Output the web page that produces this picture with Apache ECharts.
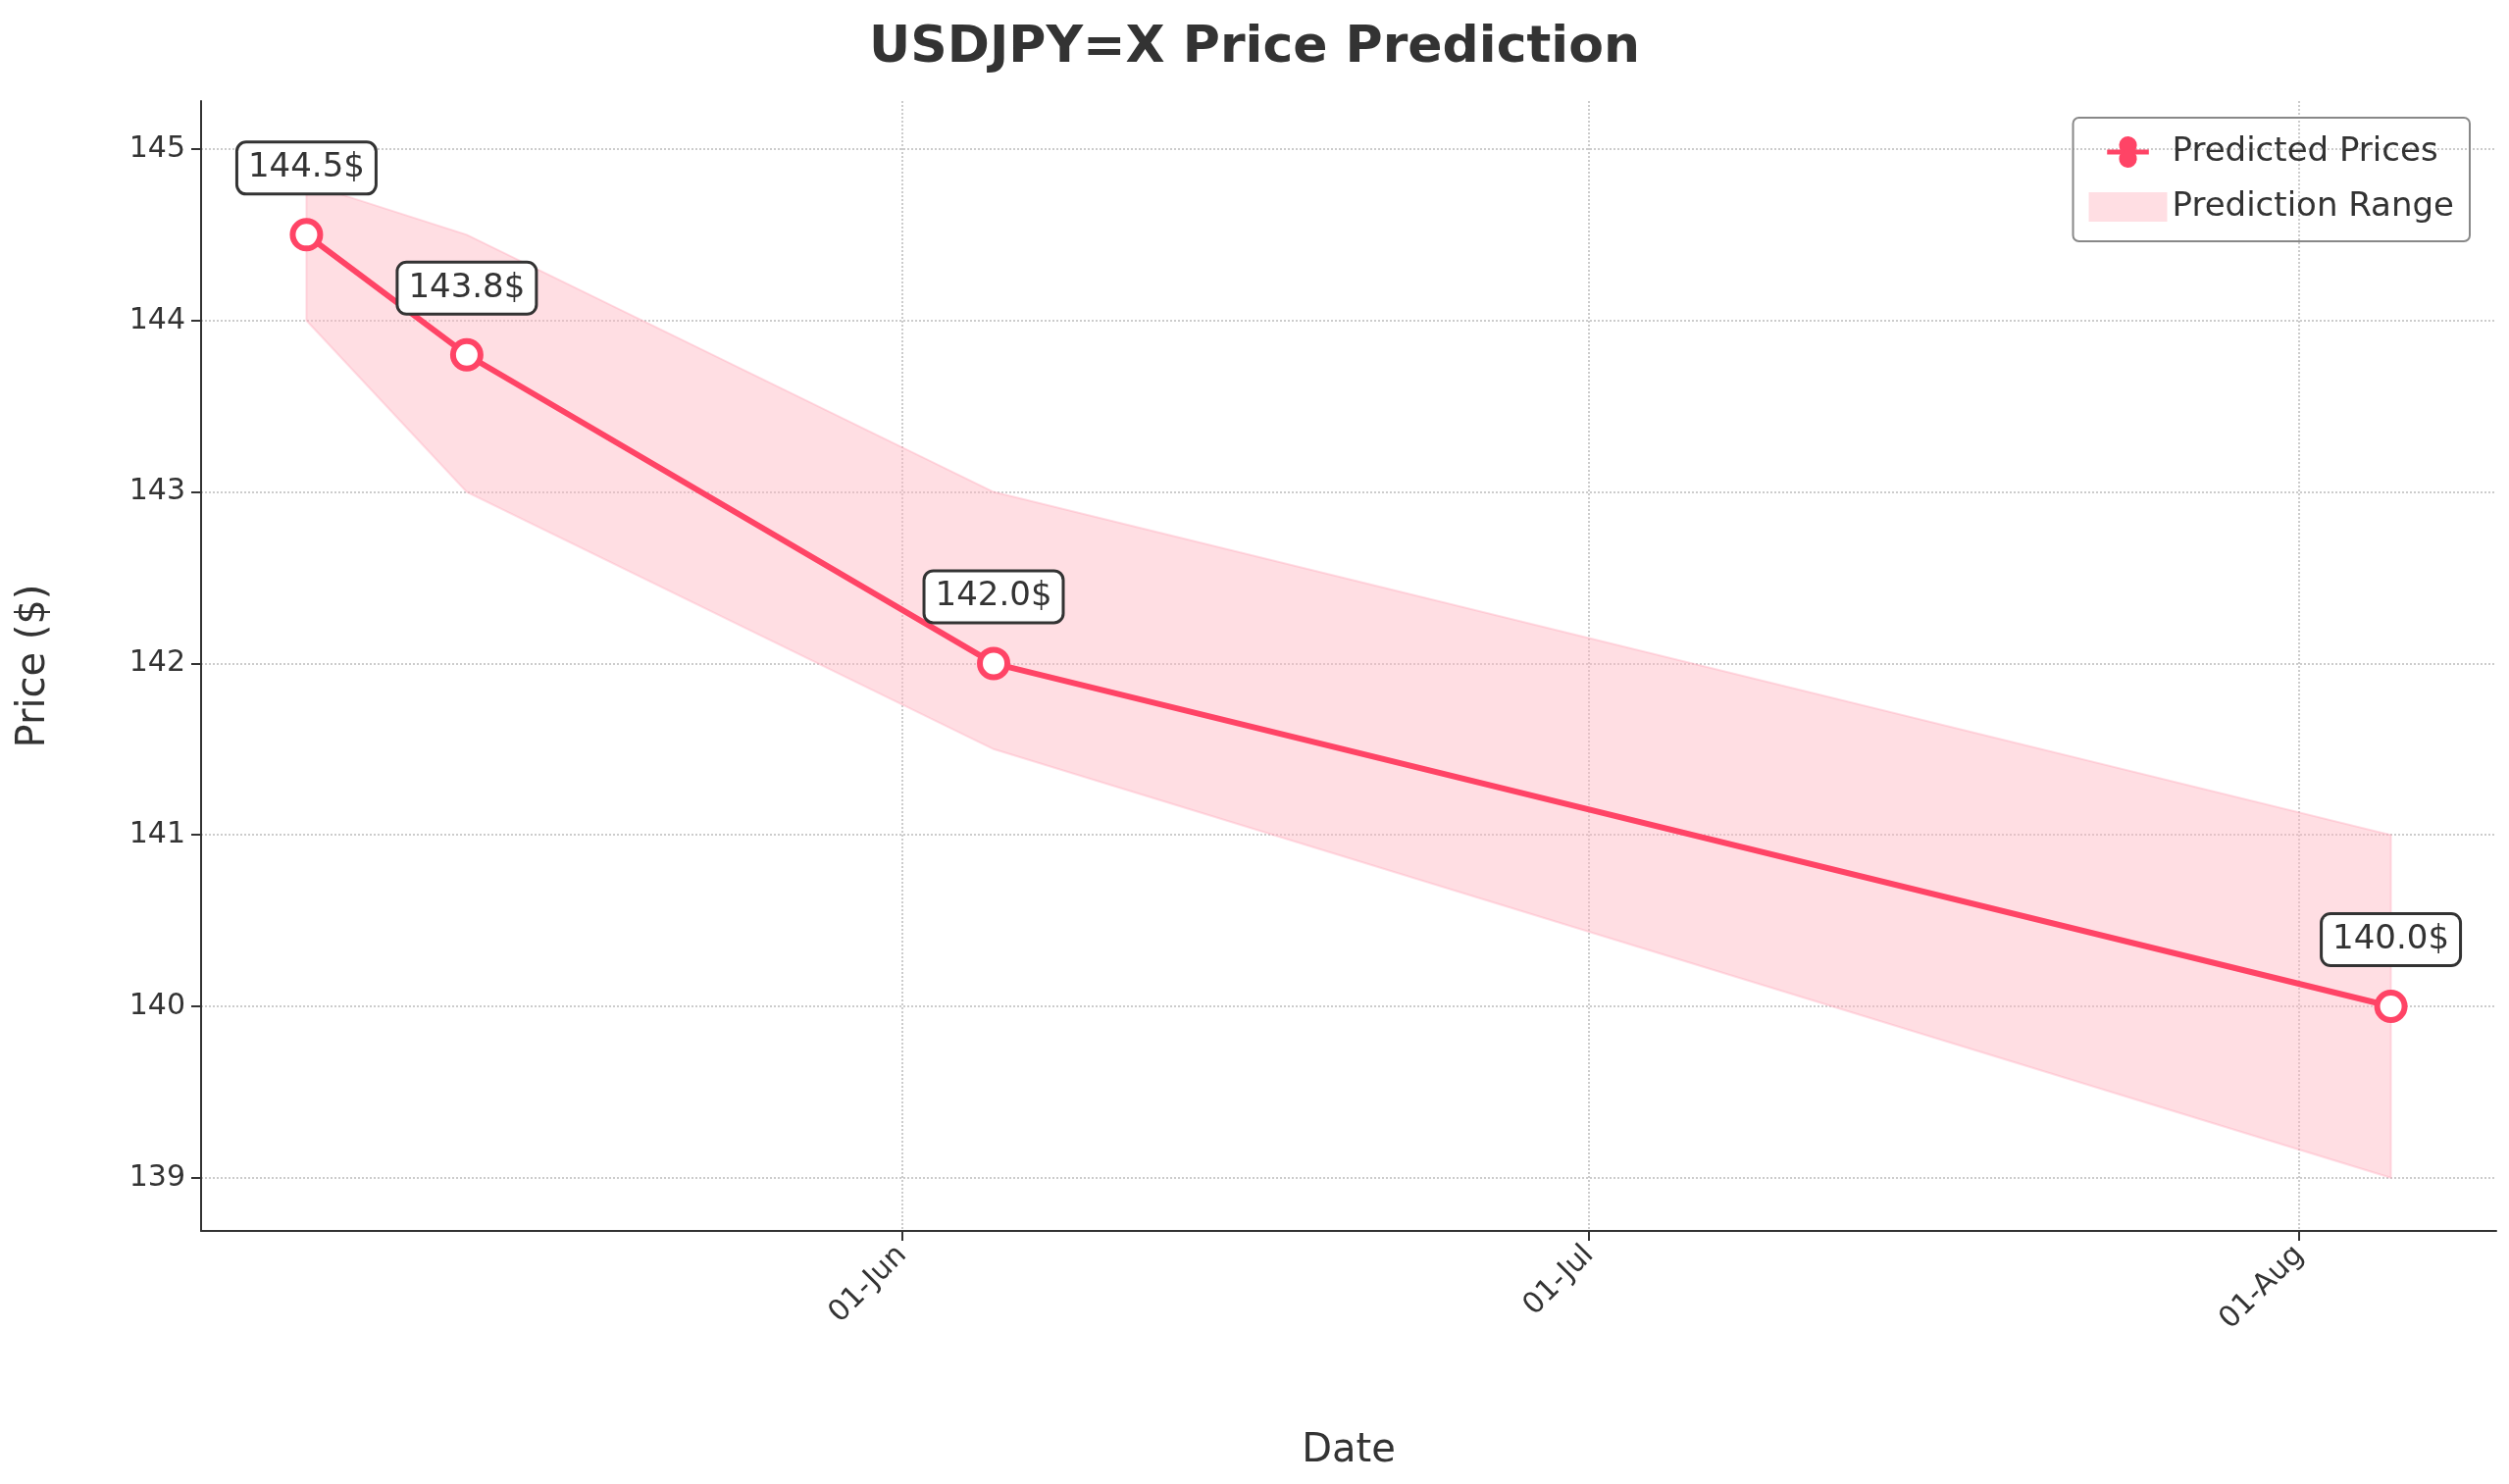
<!DOCTYPE html>
<html><head><meta charset="utf-8">
<script src="https://cdn.jsdelivr.net/npm/echarts@6/dist/echarts.min.js"></script>
<style>html,body{margin:0;background:#fff}#c{width:2558px;height:1513px}</style>
</head><body><div id="c"></div>
<script>
var dates = ['2025-05-06', '2025-05-13', '2025-06-05', '2025-08-05'];
var predicted = [144.5, 143.8, 142.0, 140.0];
var lower = [144.0, 143.0, 141.5, 139.0];
var upper = [144.8, 144.5, 143.0, 141.0];
var tickDates = ['2025-06-01', '2025-07-01', '2025-08-01'];
var yTicks = [139, 140, 141, 142, 143, 144, 145];
var monthNames = ['Jan','Feb','Mar','Apr','May','Jun','Jul','Aug','Sep','Oct','Nov','Dec'];

var ts = function (d) { return Date.parse(d + 'T00:00:00Z'); };
var xs = dates.map(ts);
var ticks = tickDates.map(ts);
var txt = '#333';
var f = 'DejaVu Sans';

var chart = echarts.init(document.getElementById('c'));
chart.setOption({
  animation: false,
  textStyle: { fontFamily: f },
  title: { text: 'USDJPY=X Price Prediction', left: 'center', top: 18,
    textStyle: { fontSize: 52, fontWeight: 'bold', color: txt, fontFamily: f } },
  grid: { left: 205, right: 13, top: 103, bottom: 258 },
  legend: {
    right: 40, top: 120, orient: 'vertical', itemGap: 22,
    padding: [18, 16], borderColor: '#888', borderWidth: 2, borderRadius: 6,
    textStyle: { fontSize: 34, color: txt, fontFamily: f },
    itemWidth: 80, itemHeight: 30,
    data: [
      { name: 'Predicted Prices', icon: 'path://M0,13H28A16,16 0 1,1 52,13H80V19H52A16,16 0 1,1 28,19H0Z',
        itemStyle: { color: '#ff4466' } },
      { name: 'Prediction Range', icon: 'rect', itemStyle: { color: 'rgba(255,182,193,0.45)', borderColor: 'rgba(255,150,170,0.5)' } }
    ]
  },
  xAxis: {
    type: 'value',
    min: ts('2025-05-01') + 0.4 * 86400000,
    max: ts('2025-08-09') + 0.6 * 86400000,
    name: 'Date', nameLocation: 'middle', nameGap: 205,
    nameTextStyle: { fontSize: 40, color: txt },
    axisLine: { lineStyle: { color: '#333', width: 2 } },
    axisTick: { show: true, customValues: ticks, length: 10, lineStyle: { color: '#333', width: 2 } },
    axisLabel: { customValues: ticks, rotate: 45, fontSize: 30, color: txt, margin: 20,
      formatter: function (v) { var d = new Date(v); return ('0' + d.getUTCDate()).slice(-2) + '-' + monthNames[d.getUTCMonth()]; } },
    splitLine: { show: true, lineStyle: { color: '#ccc', type: 'dotted', width: 2 } }
  },
  yAxis: {
    type: 'value', min: 138.69, max: 145.28,
    name: 'Price ($)', nameLocation: 'middle', nameGap: 150, nameRotate: 90,
    nameTextStyle: { fontSize: 40, color: txt },
    axisLine: { show: true, lineStyle: { color: '#333', width: 2 } },
    axisTick: { show: true, customValues: yTicks, length: 10, lineStyle: { color: '#333', width: 2 } },
    axisLabel: { customValues: yTicks, fontSize: 30, color: txt, margin: 16 },
    splitLine: { show: true, lineStyle: { color: '#ccc', type: 'dotted', width: 2 } }
  },
  series: [
    { name: 'Prediction Range', type: 'custom', silent: true, z: 1,
      itemStyle: { color: 'rgba(255,182,193,0.45)' },
      data: [0],
      renderItem: function (params, api) {
        var pts = [];
        for (var i = 0; i < xs.length; i++) pts.push(api.coord([xs[i], upper[i]]));
        for (var j = xs.length - 1; j >= 0; j--) pts.push(api.coord([xs[j], lower[j]]));
        return { type: 'polygon', shape: { points: pts },
          style: { fill: 'rgba(255,182,193,0.45)', stroke: 'rgba(255,160,180,0.35)', lineWidth: 2 } };
      } },
    { name: 'Predicted Prices', type: 'line', symbol: 'circle', symbolSize: 28,
      lineStyle: { color: '#ff4466', width: 6 },
      itemStyle: { color: '#fff', borderColor: '#ff4466', borderWidth: 6 },
      label: { show: true, position: 'top', distance: 26, fontSize: 34, color: txt,
        formatter: function (p) { return p.value[1].toFixed(1) + '$'; },
        backgroundColor: '#fff', borderColor: '#333', borderWidth: 3, borderRadius: 8, padding: [8, 10] },
      data: xs.map(function (x, i) { return [x, predicted[i]]; }), z: 5 }
  ]
});
</script></body></html>
